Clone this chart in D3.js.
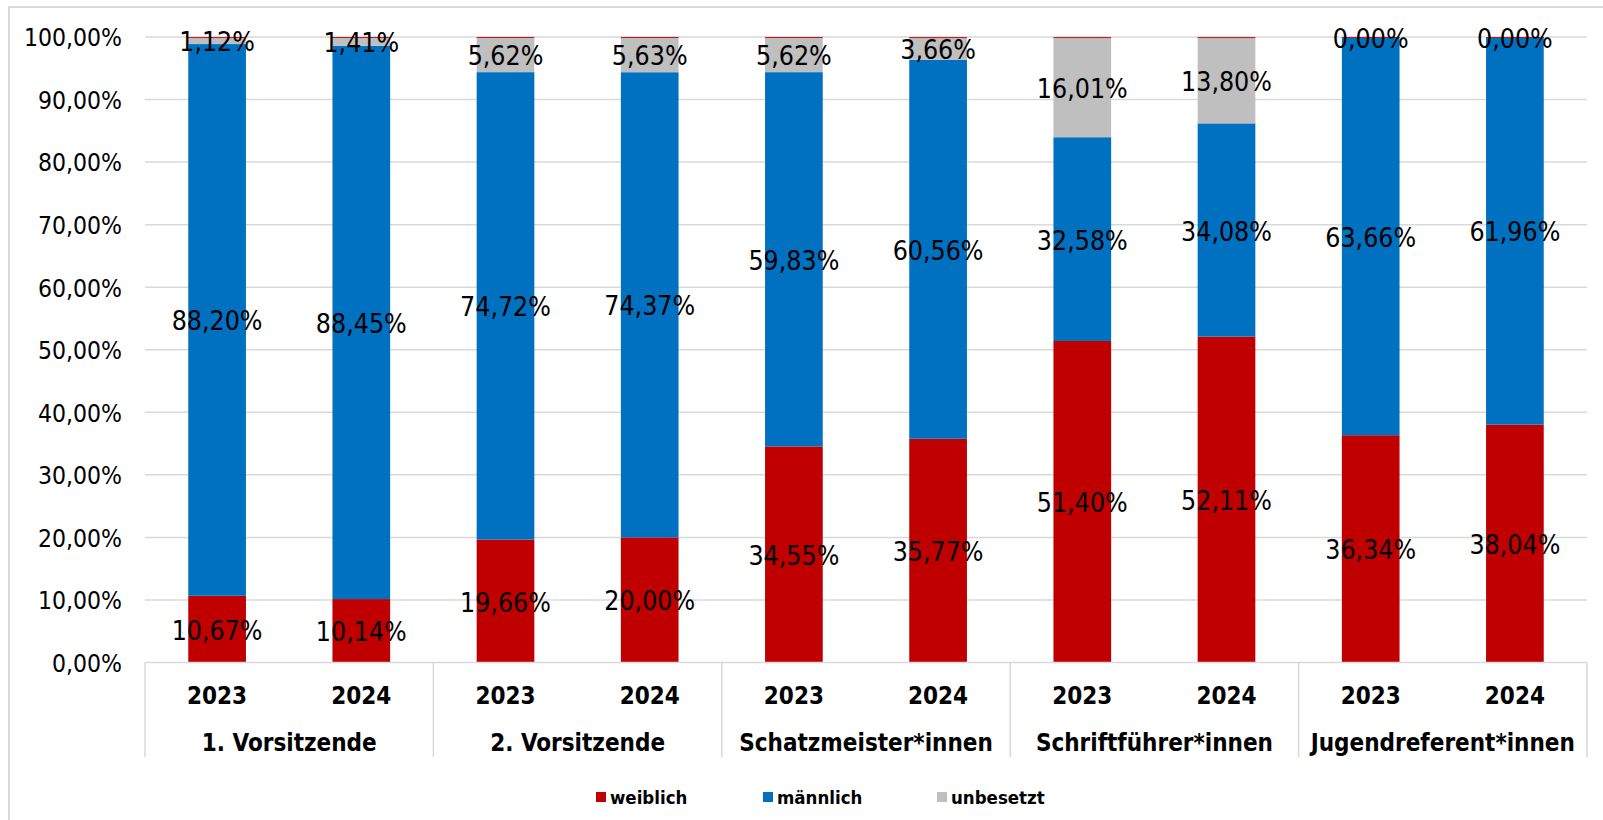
<!DOCTYPE html>
<html>
<head>
<meta charset="utf-8">
<script src="https://cdn.jsdelivr.net/npm/d3@7"></script>
<style>
  html, body { margin: 0; padding: 0; background: #fff; }
  svg { display: block; }
  text { font-family: "DejaVu Sans Condensed", "DejaVu Sans", sans-serif; font-stretch: condensed; fill: #000; }
</style>
</head>
<body>
<svg id="chart" width="1603" height="820"></svg>
<script>
// ---- data ----
const groups = ["1. Vorsitzende", "2. Vorsitzende", "Schatzmeister*innen", "Schriftführer*innen", "Jugendreferent*innen"];
const years = ["2023", "2024"];
const seriesNames = ["weiblich", "männlich", "unbesetzt"];
const seriesColors = ["#C00000", "#0070C0", "#BFBFBF"];
// values per bar, order: group × year
const weiblich  = [10.67, 10.14, 19.66, 20.00, 34.55, 35.77, 51.40, 52.11, 36.34, 38.04];
const maennlich = [88.20, 88.45, 74.72, 74.37, 59.83, 60.56, 32.58, 34.08, 63.66, 61.96];
const unbesetzt = [1.12, 1.41, 5.62, 5.63, 5.62, 3.66, 16.01, 13.80, 0.00, 0.00];
const yTicks = [0, 10, 20, 30, 40, 50, 60, 70, 80, 90, 100];

// ---- build table ----
const bars = [];
groups.forEach((g, gi) => years.forEach((yr, yi) => {
  const i = gi * years.length + yi;
  bars.push({ key: g + "|" + yr, group: g, year: yr, weiblich: weiblich[i], "männlich": maennlich[i], unbesetzt: unbesetzt[i] });
}));

const svg = d3.select("#chart");
const fmt = v => d3.format(".2f")(v).replace(".", ",") + "%";

// frame
svg.append("rect").attr("x", 9).attr("y", 7).attr("width", 1620).attr("height", 840)
  .attr("fill", "none").attr("stroke", "#D9D9D9").attr("stroke-width", 2);

const plot = { left: 145, right: 1587, top: 37, bottom: 662.5 };

const x = d3.scaleBand().domain(bars.map(d => d.key)).range([plot.left, plot.right])
  .paddingInner(0.6).paddingOuter(0.3);
const y = d3.scaleLinear().domain([0, 100]).range([plot.bottom, plot.top]);
const color = d3.scaleOrdinal().domain(seriesNames).range(seriesColors);

// gridlines
svg.append("g").selectAll("line").data(yTicks.filter(t => t > 0)).join("line")
  .attr("x1", plot.left).attr("x2", plot.right)
  .attr("y1", d => y(d)).attr("y2", d => y(d))
  .attr("stroke", "#D9D9D9").attr("stroke-width", 1.5);

// y axis labels
const yAxis = d3.axisLeft(y).tickValues(yTicks).tickFormat(fmt).tickSize(0).tickPadding(23);
const yg = svg.append("g").attr("transform", `translate(${plot.left},0)`).call(yAxis);
yg.select(".domain").remove();
yg.selectAll("text").attr("font-size", 24.5).style("font-family", null).attr("dy", "0.36em");

// stacked bars
const stack = d3.stack().keys(seriesNames);
const layers = stack(bars);
const lg = svg.append("g").selectAll("g").data(layers).join("g").attr("fill", d => color(d.key));
lg.selectAll("rect").data(d => d).join("rect")
  .attr("x", d => x(d.data.key)).attr("width", x.bandwidth())
  .attr("y", d => y(d[1])).attr("height", d => y(d[0]) - y(d[1]));

// thin red cap at top of each stack
svg.append("g").selectAll("line").data(layers[layers.length - 1]).join("line")
  .attr("x1", d => x(d.data.key)).attr("x2", d => x(d.data.key) + x.bandwidth())
  .attr("y1", d => y(d[1]) + 0.5).attr("y2", d => y(d[1]) + 0.5)
  .attr("stroke", "#D01010").attr("stroke-width", 1);

// data labels
const labels = [];
layers.forEach(layer => layer.forEach(d => {
  labels.push({ cx: x(d.data.key) + x.bandwidth() / 2, cy: y((d[0] + d[1]) / 2), v: d.data[layer.key] });
}));
svg.append("g").selectAll("text").data(labels).join("text")
  .attr("x", d => d.cx).attr("y", d => d.cy + 1).attr("dy", "0.36em")
  .attr("text-anchor", "middle").attr("font-size", 26.5)
  .text(d => fmt(d.v));

// x axis line
svg.append("line").attr("x1", plot.left).attr("x2", plot.right)
  .attr("y1", plot.bottom).attr("y2", plot.bottom)
  .attr("stroke", "#D9D9D9").attr("stroke-width", 1.5);

// group scale for separators and labels
const xg = d3.scaleBand().domain(groups).range([plot.left, plot.right]);
const seps = groups.map(g => xg(g)).concat([plot.right]);
svg.append("g").selectAll("line").data(seps).join("line")
  .attr("x1", d => d).attr("x2", d => d).attr("y1", plot.bottom).attr("y2", 757)
  .attr("stroke", "#D9D9D9").attr("stroke-width", 1.5);

// year labels
svg.append("g").selectAll("text").data(bars).join("text")
  .attr("x", d => x(d.key) + x.bandwidth() / 2).attr("y", 695).attr("dy", "0.36em")
  .attr("text-anchor", "middle").attr("font-size", 24).attr("font-weight", "bold")
  .text(d => d.year);

// group labels
svg.append("g").selectAll("text").data(groups).join("text")
  .attr("x", d => xg(d) + xg.bandwidth() / 2).attr("y", 742).attr("dy", "0.36em")
  .attr("text-anchor", "middle").attr("font-size", 24).attr("font-weight", "bold")
  .text(d => d);

// legend
const legendX = [596, 763, 937];
const leg = svg.append("g").selectAll("g").data(seriesNames).join("g")
  .attr("transform", (d, i) => `translate(${legendX[i]},797)`);
leg.append("rect").attr("x", 0).attr("y", -5).attr("width", 10).attr("height", 10).attr("fill", d => color(d));
leg.append("text").attr("x", 14).attr("y", 0).attr("dy", "0.36em")
  .attr("font-size", 18.5).attr("font-weight", "bold").text(d => d);
</script>
</body>
</html>
